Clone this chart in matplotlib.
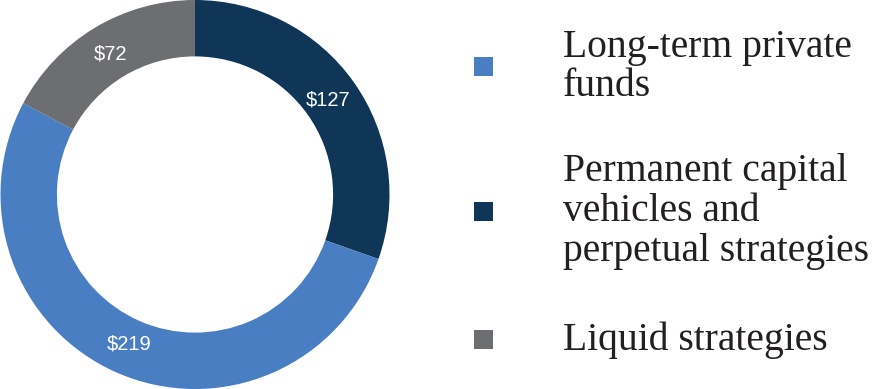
import matplotlib
matplotlib.use('Agg')
import matplotlib.pyplot as plt
from matplotlib.patches import Rectangle

# values in $ billions
labels = ['Permanent capital\nvehicles and\nperpetual strategies', 'Long-term private\nfunds', 'Liquid strategies']
values = [127, 219, 72]
colors = ['#0F3557', '#4A7EC2', '#6D6E71']

legend_order = [1, 0, 2]
legend_y = [0.828, 0.457, 0.126]

fig = plt.figure(figsize=(8.86, 3.89), dpi=100)
ax = fig.add_axes([0.0, 0.0, 390 / 886, 1.0])

wedges, texts, autotexts = ax.pie(
    values,
    colors=colors,
    startangle=90,
    counterclock=False,
    radius=1.0,
    wedgeprops={'width': 0.29, 'linewidth': 0},
    autopct=lambda p: f'${p * sum(values) / 100:.0f}',
    pctdistance=0.84,
    textprops={'color': 'white', 'fontsize': 14.5, 'family': 'Liberation Sans'},
)
ax.set_xlim(-1.0, 1.0)
ax.set_ylim(-1.0, 1.0)
ax.set_aspect('equal')
ax.axis('off')

# legend drawn by hand
for i, y in zip(legend_order, legend_y):
    fig.patches.append(Rectangle((474 / 886, y - 9.5 / 389), 19 / 886, 19 / 389,
                                 transform=fig.transFigure, facecolor=colors[i],
                                 edgecolor='none'))
    fig.text(563 / 886, y, labels[i], ha='left', va='center',
             fontsize=28.5, family='Liberation Serif', color='#231F20',
             linespacing=1.1)

fig.savefig('out.png', dpi=100)
